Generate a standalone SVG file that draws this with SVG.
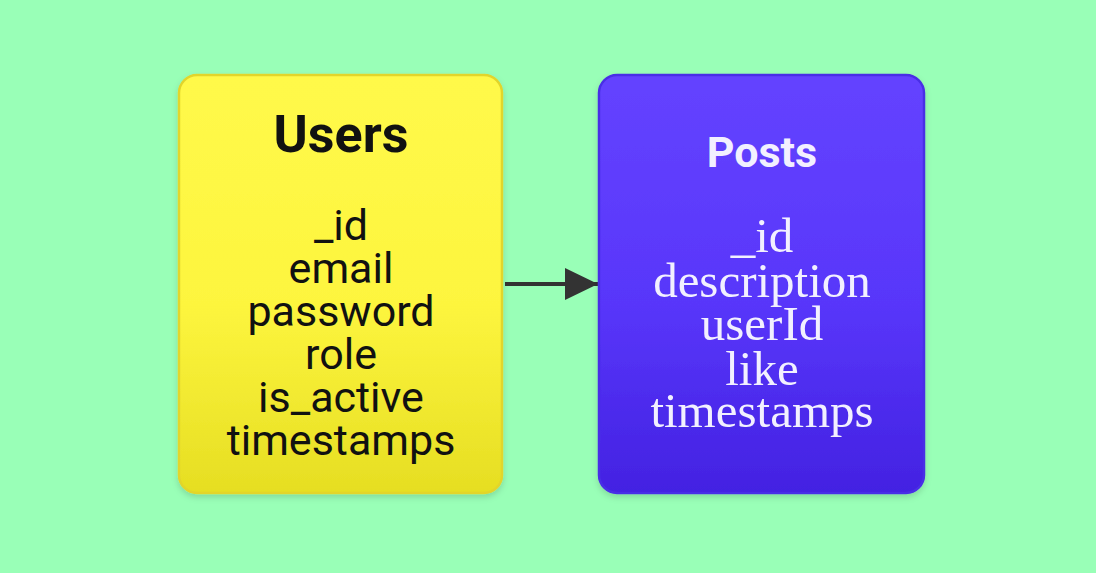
<svg xmlns="http://www.w3.org/2000/svg" width="1096" height="573" viewBox="0 0 1096 573">
<defs>
<linearGradient id="gy" x1="0" y1="0" x2="0" y2="1">
<stop offset="0" stop-color="#FFF94A"/><stop offset="0.55" stop-color="#FDF53E"/><stop offset="1" stop-color="#E6DE22"/>
</linearGradient>
<linearGradient id="gp" x1="0" y1="0" x2="0" y2="1">
<stop offset="0" stop-color="#6443FF"/><stop offset="0.55" stop-color="#5836FA"/><stop offset="1" stop-color="#4322E2"/>
</linearGradient>
<filter id="sh" x="-10%" y="-10%" width="120%" height="120%">
<feDropShadow dx="0" dy="3" stdDeviation="3" flood-color="#000" flood-opacity="0.15"/>
</filter>
<marker id="ah" viewBox="0 0 33 32" refX="33" refY="16" markerWidth="33" markerHeight="32" markerUnits="userSpaceOnUse" orient="auto">
<path d="M0,0 L33,16 L0,32 Z" fill="#333"/>
</marker>
<style>
.title{font-family:Roboto,"Liberation Sans",sans-serif;font-weight:bold;text-anchor:middle}
.fu{font-family:Roboto,"Liberation Sans",sans-serif;font-size:43px;fill:#111;text-anchor:middle}
.fp{font-family:"Liberation Serif","DejaVu Serif",serif;font-size:49px;fill:#F2F0FF;text-anchor:middle}
</style>
</defs>
<rect width="1096" height="573" fill="#99FFB7"/>
<g id="connectors">
<line x1="505" y1="284" x2="598" y2="284" stroke="#333" stroke-width="4" marker-end="url(#ah)"/>
</g>
<g id="users">
<rect x="179" y="75" width="323" height="418" rx="18" fill="url(#gy)" stroke="#E2D52C" stroke-width="2.5" filter="url(#sh)"/>
<text class="title" x="341" y="152" font-size="52" fill="#111">Users</text>
<text class="fu" x="341" y="240">_id</text>
<text class="fu" x="341" y="283">email</text>
<text class="fu" x="341" y="326">password</text>
<text class="fu" x="341" y="369">role</text>
<text class="fu" x="341" y="412">is_active</text>
<text class="fu" x="341" y="455">timestamps</text>
</g>
<g id="posts">
<rect x="599" y="75" width="325" height="418" rx="18" fill="url(#gp)" stroke="#4A2FE6" stroke-width="2.5" filter="url(#sh)"/>
<text class="title" x="762" y="167" font-size="43" fill="#F2F0FF">Posts</text>
<text class="fp" x="762" y="252">_id</text>
<text class="fp" x="762" y="297">description</text>
<text class="fp" x="762" y="340">userId</text>
<text class="fp" x="762" y="385">like</text>
<text class="fp" x="762" y="427">timestamps</text>
</g>
</svg>
